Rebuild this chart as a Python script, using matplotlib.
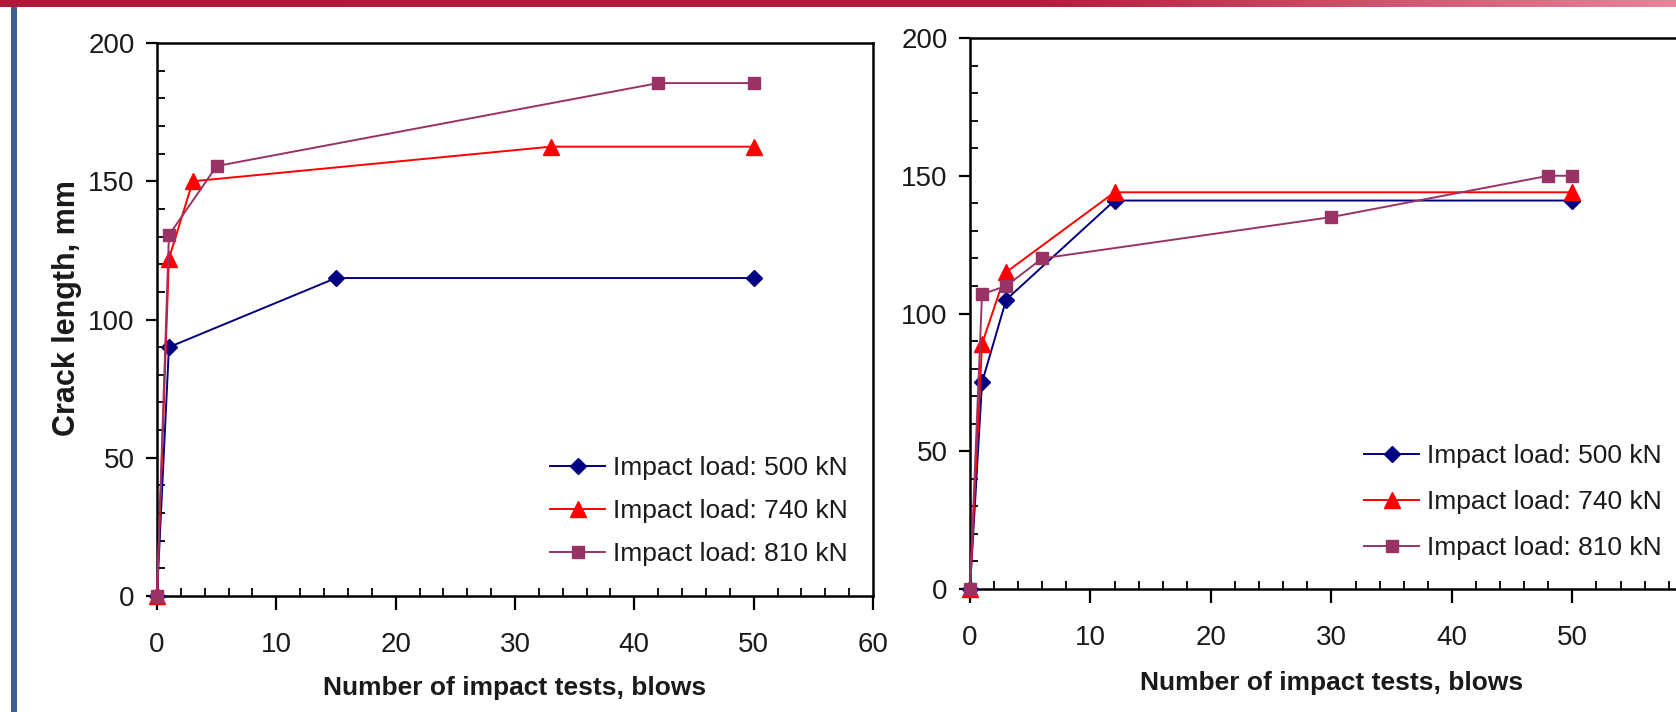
import numpy as np
import matplotlib
matplotlib.use("Agg")
import matplotlib.pyplot as plt
from matplotlib.colors import LinearSegmentedColormap
from matplotlib.ticker import MultipleLocator

plt.rcParams['font.family'] = ['Liberation Sans', 'DejaVu Sans']

labels = ['Impact load: 500 kN', 'Impact load: 740 kN', 'Impact load: 810 kN']
colors = ['#000080', '#ff0000', '#993366']
markers = ['D', '^', 's']
msizes = [8, 11, 9]

# left chart
left_x = [[0, 1, 15, 50],
          [0, 1, 3, 33, 50],
          [0, 1, 5, 42, 50]]
left_y = [[0, 90, 115, 115],
          [0, 122, 150, 162.5, 162.5],
          [0, 130.5, 155.5, 185.5, 185.5]]

# right chart
right_x = [[0, 1, 3, 12, 50],
           [0, 1, 3, 12, 50],
           [0, 1, 3, 6, 30, 48, 50]]
right_y = [[0, 75, 105, 141, 141],
           [0, 89, 115, 144, 144],
           [0, 107, 110, 120, 135, 150, 150]]

W, H = 1676, 712
fig = plt.figure(figsize=(W / 100, H / 100), dpi=100)
fig.patch.set_facecolor('white')

txt = '#1a1a1a'


def setup(ax, xs, ys, xmax):
    for x, y, c, m, ms, lab in zip(xs, ys, colors, markers, msizes, labels):
        ax.plot(x, y, color=c, lw=1.4, marker=m, ms=ms, mec=c, mfc=c,
                label=lab, clip_on=False, zorder=3)
    ax.set_xlim(0, xmax)
    ax.set_ylim(0, 200)
    ax.xaxis.set_major_locator(MultipleLocator(10))
    ax.xaxis.set_minor_locator(MultipleLocator(2))
    ax.yaxis.set_major_locator(MultipleLocator(50))
    ax.yaxis.set_minor_locator(MultipleLocator(10))
    ax.tick_params(which='major', axis='x', direction='out', length=10, width=1.6,
                   pad=16, labelsize=20, labelcolor=txt)
    ax.tick_params(which='major', axis='y', direction='out', length=8, width=1.6,
                   pad=8, labelsize=20, labelcolor=txt)
    ax.tick_params(which='minor', direction='in', length=6, width=1.3)
    for s in ax.spines.values():
        s.set_linewidth(1.8)
    ax.set_xlabel('Number of impact tests, blows', fontsize=19,
                  fontweight='bold', color=txt)


def add_legend(ax, x, y, spacing):
    ax.legend(loc='upper left', bbox_to_anchor=(x / W, 1 - y / H),
              bbox_transform=fig.transFigure, frameon=False, fontsize=19,
              handlelength=2.1, handletextpad=0.3, labelspacing=spacing,
              borderpad=0, borderaxespad=0, labelcolor=txt)


ax1 = fig.add_axes([157 / W, 1 - 596 / H, 716 / W, 553 / H])
setup(ax1, left_x, left_y, 60)
ax1.xaxis.set_label_coords(0.5, -0.144)
ax1.set_ylabel('Crack length, mm', fontsize=22, fontweight='bold', color=txt)
ax1.yaxis.set_label_coords(-0.105, 0.52)
add_legend(ax1, 550, 456, 0.72)

# right chart is cut by the picture edge (at about 58.6 blows)
ax2 = fig.add_axes([970 / W, 1 - 589 / H, 706 / W, 551 / H])
setup(ax2, right_x, right_y, 58.6)
ax2.spines['right'].set_visible(False)
ax2.xaxis.set_label_coords(0.5 * 60 / 58.6, -0.149)
add_legend(ax2, 1364, 444, 0.84)

# slide decoration: blue bar on the left, red gradient bar on top
blue = fig.add_axes([11 / W, 0, 6 / W, 1])
blue.set_facecolor('#3d5f8f')
blue.set_xticks([])
blue.set_yticks([])
for s in blue.spines.values():
    s.set_visible(False)

bar = fig.add_axes([0, 1 - 7 / H, 1, 7 / H])
cmap = LinearSegmentedColormap.from_list(
    'bar', [(0, '#b01a3a'), (0.62, '#b31c3c'), (1, '#e8849a')])
bar.imshow(np.linspace(0, 1, 256)[None, :], aspect='auto', cmap=cmap)
bar.axis('off')

fig.savefig('out.png', dpi=100)
